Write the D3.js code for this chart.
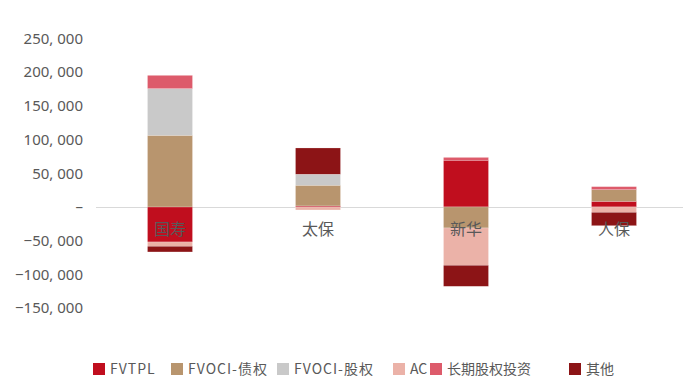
<!DOCTYPE html>
<meta charset="utf-8">
<style>
body { margin: 0; background: #fff; }
svg { display: block; }
.tick-label { font: 15px "Noto Sans", "Noto Sans CJK SC", sans-serif; fill: #595959; }
.cat-label { font: 16px "Noto Sans CJK SC", sans-serif; fill: #595959; }
.legend text { font: 14px "Noto Sans CJK SC", "Noto Sans", sans-serif; fill: #595959; }
</style>
<svg width="683" height="376"></svg>
<script src="https://d3js.org/d3.v7.min.js"></script>
<script>

// companies
var categories = ["国寿", "太保", "新华", "人保"];

// series names, in stacking order
var seriesNames = ["FVTPL", "FVOCI-债权", "FVOCI-股权", "AC", "长期股权投资", "其他"];
var seriesColors = ["#C00E1E", "#B8956E", "#C9C9C9", "#EBB2A8", "#DD5B6B", "#8C1416"];

// values
var fvtpl      = [-52000,   1500,  69300,   8300];
var fvociDebt  = [106300,  30700, -31200,  17300];
var fvociEq    = [ 69300,  16300,      0,      0];
var ac         = [ -6400,  -4500, -55400,  -8000];
var ltEquity   = [ 19700,      0,   4200,   4500];
var other      = [ -8400,  39000, -31200, -19800];

var yTicks = [250000, 200000, 150000, 100000, 50000, 0, -50000, -100000, -150000];

var seriesValues = [fvtpl, fvociDebt, fvociEq, ac, ltEquity, other];

// legend swatch left edges (layout)
var legendX = [93, 171, 277, 393, 430, 569];

var rows = categories.map(function(c, i) {
  var r = { name: c };
  seriesNames.forEach(function(s, j) { r[s] = seriesValues[j][i]; });
  return r;
});

var svg = d3.select("svg");

var x = d3.scaleBand()
    .domain(categories)
    .range([96, 688])
    .paddingInner(0.696)
    .paddingOuter(0.348);

var y = d3.scaleLinear()
    .domain([-150000, 250000])
    .range([308, 38.5]);

var stack = d3.stack()
    .keys(seriesNames)
    .offset(d3.stackOffsetDiverging);

var layers = stack(rows);

// zero line
svg.append("line")
    .attr("x1", 96).attr("x2", 683)
    .attr("y1", Math.round(y(0)) + 0.5).attr("y2", Math.round(y(0)) + 0.5)
    .attr("stroke", "#D9D9D9")
    .attr("stroke-width", 1);

// y tick labels
var fmt = d3.format(",");
svg.selectAll(".tick-label")
  .data(yTicks)
  .enter().append("text")
    .attr("class", "tick-label")
    .attr("x", 83)
    .attr("y", function(d) { return y(d); })
    .attr("dy", "0.35em")
    .attr("text-anchor", "end")
    .text(function(d) { return d === 0 ? "–" : fmt(d).replace(/,/g, ", "); });

// bars
svg.selectAll(".layer")
  .data(layers)
  .enter().append("g")
    .attr("class", "layer")
    .attr("fill", function(d, i) { return seriesColors[i]; })
  .selectAll("rect")
  .data(function(d) { return d; })
  .enter().append("rect")
    .attr("x", function(d) { return x(d.data.name); })
    .attr("width", x.bandwidth())
    .attr("y", function(d) { return y(Math.max(d[0], d[1])); })
    .attr("height", function(d) { return Math.abs(y(d[0]) - y(d[1])); })
    .attr("stroke", "#fff")
    .attr("stroke-opacity", 0.4)
    .attr("stroke-width", 0.5);

// category labels
svg.selectAll(".cat-label")
  .data(categories)
  .enter().append("text")
    .attr("class", "cat-label")
    .attr("x", function(d) { return x(d) + x.bandwidth() / 2; })
    .attr("y", 229)
    .attr("dy", "0.35em")
    .attr("text-anchor", "middle")
    .text(function(d) { return d; });

// legend
var legend = svg.append("g").attr("class", "legend");
seriesNames.forEach(function(s, i) {
  legend.append("rect")
      .attr("x", legendX[i]).attr("y", 363)
      .attr("width", 12).attr("height", 12)
      .attr("fill", seriesColors[i]);
  legend.append("text")
      .attr("x", legendX[i] + 17).attr("y", 374)
      .attr("letter-spacing", /[A-Z]{3,}/.test(s) ? 1 : 0)
      .text(s);
});

</script>
